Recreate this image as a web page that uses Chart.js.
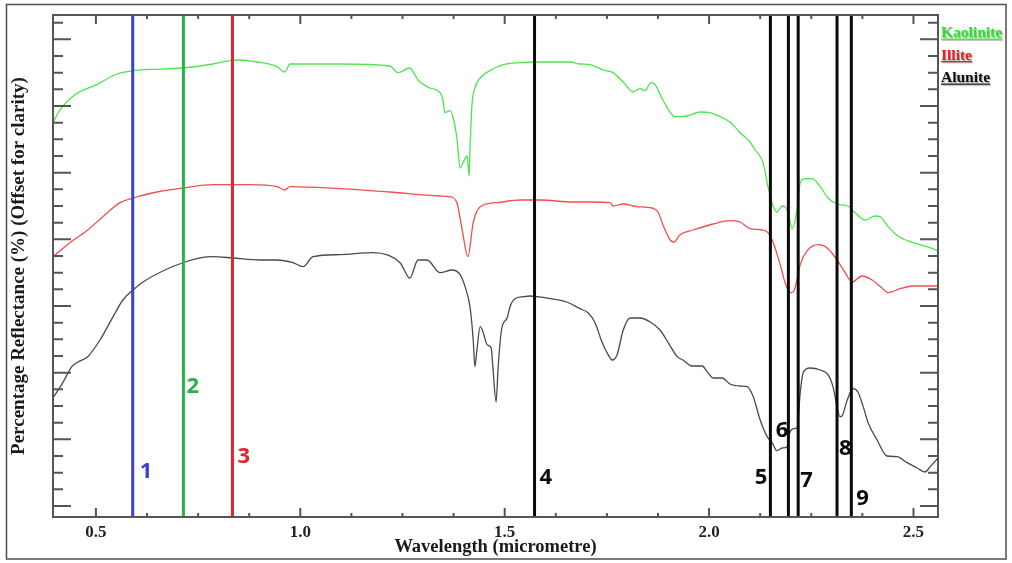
<!DOCTYPE html>
<html>
<head>
<meta charset="utf-8">
<script src="https://cdn.jsdelivr.net/npm/chart.js@4.4.1/dist/chart.umd.min.js"></script>
<style>
  html, body { margin: 0; padding: 0; background: #fff; }
  canvas { display: block; }
</style>
</head>
<body>
<canvas id="spectra" width="1012" height="563"></canvas>
<script>
// spectra.js

// wavelength axis (micrometre)
const X_MIN = 0.395;
const X_MAX = 2.56;
const X_TICKS = [ 0.5, 0.625, 0.75, 0.875, 1.0, 1.125, 1.25, 1.375, 1.5, 1.625, 1.75, 1.875, 2.0, 2.125, 2.25, 2.375, 2.5 ];
const X_LABELED = [ 0.5, 1.0, 1.5, 2.0, 2.5 ];

// reflectance axis, unlabeled (offset for clarity)
const Y_MIN = -1.65;
const Y_MAX = 73.65;
const Y_TICKS = [ 0, 2.5, 5, 7.5, 10, 12.5, 15, 17.5, 20, 22.5, 25, 27.5, 30, 32.5, 35, 37.5, 40, 42.5, 45, 47.5, 50, 52.5, 55, 57.5, 60, 62.5, 65, 67.5, 70, 72.5 ];
const Y_MAJOR = [ 0, 10, 20, 30, 40, 50, 60, 70 ];

const KAOLINITE_WL = [ 0.395, 0.412, 0.449, 0.502, 0.551, 0.591, 0.713, 0.786, 0.828, 0.852, 0.894, 0.943, 0.962, 0.975, 1.097, 1.219, 1.239, 1.268, 1.288, 1.317, 1.342, 1.349, 1.354, 1.366, 1.374, 1.383, 1.391, 1.398, 1.408, 1.413, 1.415, 1.420, 1.427, 1.440, 1.464, 1.496, 1.538, 1.579, 1.660, 1.684, 1.709, 1.741, 1.765, 1.790, 1.814, 1.831, 1.843, 1.858, 1.868, 1.887, 1.917, 1.946, 1.978, 2.002, 2.027, 2.051, 2.076, 2.100, 2.113, 2.132, 2.144, 2.154, 2.166, 2.179, 2.186, 2.193, 2.203, 2.215, 2.223, 2.235, 2.252, 2.272, 2.291, 2.313, 2.340, 2.357, 2.382, 2.406, 2.418, 2.438, 2.462, 2.499, 2.533, 2.560 ];
const KAOLINITE_R = [ 57.5, 59.4, 61.7, 63.2, 64.8, 65.3, 65.7, 66.3, 66.8, 66.9, 66.6, 65.9, 65.1, 66.3, 66.3, 66.0, 65.0, 65.7, 63.9, 62.7, 62.0, 60.9, 59.0, 59.3, 58.2, 55.2, 50.7, 51.5, 52.5, 49.5, 53.4, 60.2, 62.7, 64.2, 65.3, 66.2, 66.5, 66.6, 66.6, 66.3, 66.2, 65.4, 65.0, 63.6, 62.1, 62.6, 62.3, 63.5, 63.2, 60.9, 58.4, 58.5, 59.1, 59.0, 58.4, 57.6, 56.0, 54.6, 53.4, 51.5, 47.9, 45.5, 44.1, 45.0, 44.9, 44.1, 41.6, 44.4, 48.5, 49.1, 49.1, 47.9, 46.2, 45.3, 45.0, 44.0, 42.9, 43.5, 43.4, 41.9, 40.5, 39.5, 38.9, 38.3 ];

const ILLITE_WL = [ 0.395, 0.436, 0.480, 0.517, 0.559, 0.591, 0.649, 0.713, 0.786, 0.877, 0.943, 0.962, 0.975, 1.097, 1.219, 1.342, 1.366, 1.383, 1.396, 1.410, 1.423, 1.440, 1.481, 1.538, 1.586, 1.667, 1.709, 1.758, 1.765, 1.790, 1.824, 1.861, 1.875, 1.887, 1.905, 1.914, 1.929, 1.961, 2.010, 2.051, 2.076, 2.100, 2.130, 2.144, 2.157, 2.174, 2.186, 2.198, 2.206, 2.215, 2.223, 2.240, 2.267, 2.291, 2.313, 2.333, 2.350, 2.374, 2.399, 2.423, 2.438, 2.467, 2.499, 2.560 ];
const ILLITE_R = [ 37.4, 39.5, 41.4, 43.4, 45.5, 46.2, 47.1, 47.7, 48.2, 48.2, 47.9, 47.4, 47.9, 47.6, 47.1, 46.5, 46.4, 45.5, 41.4, 37.4, 42.5, 44.9, 45.5, 45.9, 45.9, 45.6, 45.6, 45.5, 45.0, 45.3, 44.9, 44.7, 44.1, 42.2, 39.9, 39.6, 40.7, 41.4, 42.3, 42.8, 42.6, 41.6, 41.4, 41.0, 39.5, 36.2, 33.5, 32.0, 32.1, 33.9, 36.2, 38.3, 39.2, 38.6, 36.9, 35.0, 33.6, 34.5, 33.9, 32.7, 32.0, 32.6, 33.0, 33.0 ];

const ALUNITE_WL = [ 0.395, 0.419, 0.441, 0.456, 0.480, 0.510, 0.542, 0.566, 0.591, 0.615, 0.718, 0.786, 0.835, 0.901, 0.943, 0.982, 1.007, 1.031, 1.097, 1.178, 1.244, 1.268, 1.288, 1.310, 1.342, 1.371, 1.391, 1.403, 1.415, 1.423, 1.427, 1.432, 1.440, 1.447, 1.457, 1.467, 1.471, 1.479, 1.484, 1.493, 1.506, 1.513, 1.525, 1.545, 1.562, 1.579, 1.611, 1.652, 1.684, 1.704, 1.721, 1.738, 1.753, 1.763, 1.775, 1.790, 1.807, 1.831, 1.856, 1.880, 1.900, 1.922, 1.936, 1.958, 1.983, 1.997, 2.010, 2.032, 2.051, 2.076, 2.093, 2.108, 2.125, 2.142, 2.154, 2.166, 2.179, 2.191, 2.196, 2.206, 2.215, 2.223, 2.230, 2.247, 2.272, 2.291, 2.303, 2.313, 2.320, 2.325, 2.338, 2.352, 2.364, 2.377, 2.389, 2.411, 2.435, 2.460, 2.484, 2.509, 2.528, 2.541, 2.560 ];
const ALUNITE_R = [ 16.2, 18.5, 20.9, 21.6, 22.4, 24.9, 28.4, 30.9, 32.4, 33.6, 36.6, 37.4, 37.2, 36.9, 36.9, 36.5, 35.9, 37.4, 37.7, 38.0, 36.5, 34.2, 36.9, 36.9, 35.0, 35.4, 34.7, 32.9, 29.9, 24.9, 20.9, 23.4, 26.9, 26.1, 24.2, 23.7, 20.9, 15.6, 20.9, 26.7, 28.2, 29.9, 31.1, 31.4, 31.5, 31.4, 31.1, 30.6, 29.6, 29.0, 27.5, 24.6, 22.7, 21.9, 22.7, 26.4, 28.2, 28.2, 27.6, 26.4, 24.5, 22.4, 21.9, 21.0, 21.0, 20.0, 19.2, 19.2, 18.3, 18.0, 17.9, 16.4, 12.9, 10.4, 9.5, 8.3, 8.7, 8.9, 10.7, 11.6, 11.7, 17.0, 20.0, 20.7, 20.4, 19.7, 17.9, 14.9, 13.4, 13.5, 15.9, 17.6, 17.1, 14.9, 12.5, 9.9, 7.5, 7.4, 6.5, 5.7, 5.1, 5.9, 7.2 ];

// band positions marked with vertical lines
const MARKER_WL = [ 0.59, 0.714, 0.834, 1.573, 2.150, 2.194, 2.218, 2.313, 2.348 ];
const MARKER_NAMES = [ '1', '2', '3', '4', '5', '6', '7', '8', '9' ];

// where each marker number sits: text baseline (y units), px shift from line, side
const MARKER_LABEL_Y = [ 4.2, 17.0, 6.45, 3.3, 3.3, 10.4, 2.9, 7.65, 0.15 ];
const MARKER_LABEL_DX = [ 7, 3, 5, 5, -3, 0, 2, 2, 5 ];
const MARKER_LABEL_SIDE = [ 'left', 'left', 'left', 'left', 'right', 'right', 'left', 'left', 'left' ];
const MARKER_COLORS = [ '#3a3fd2', '#27b24a', '#e8222b', '#0a0a0a', '#0a0a0a', '#0a0a0a', '#0a0a0a', '#0a0a0a', '#0a0a0a' ];

const SERIES_NAMES = [ 'Kaolinite', 'Illite', 'Alunite' ];
const SERIES_COLORS = [ '#4de64d', '#f24d4d', '#4a4a4a' ];
const LEGEND_COLORS = [ '#2ee02e', '#f01c1c', '#111111' ];

const SERIF = '"Liberation Serif", "Times New Roman", serif';

function to_points( xs, ys ) {
  return xs.map( ( x, i ) => ( { x: x, y: ys[ i ] } ) );
}

function spectrum_dataset( name, idx, xs, ys ) {
  return {
    label: name,
    data: to_points( xs, ys ),
    borderColor: SERIES_COLORS[ idx ],
    borderWidth: 1.3,
    pointRadius: 0,
    cubicInterpolationMode: 'monotone',
    order: 2
  };
}

function marker_dataset( idx ) {
  return {
    label: 'band ' + MARKER_NAMES[ idx ],
    data: [ { x: MARKER_WL[ idx ], y: Y_MIN }, { x: MARKER_WL[ idx ], y: Y_MAX } ],
    borderColor: MARKER_COLORS[ idx ],
    borderWidth: 3,
    pointRadius: 0,
    order: 1
  };
}

const frame_plugin = {
  id: 'frame_plugin',
  beforeDraw( chart ) {
    const ctx = chart.ctx;
    ctx.save();
    ctx.fillStyle = '#ffffff';
    ctx.fillRect( 0, 0, chart.width, chart.height );
    ctx.strokeStyle = '#4d4d4d';
    ctx.lineWidth = 1.5;
    ctx.strokeRect( 6.5, 4.5, chart.width - 12.5, chart.height - 8.5 );
    ctx.restore();
  },
  afterDatasetsDraw( chart ) {
    const { ctx, scales: { x, y } } = chart;
    ctx.save();
    ctx.font = 'bold 22px "Open Sans", "Noto Sans", sans-serif';
    ctx.textBaseline = 'alphabetic';
    MARKER_NAMES.forEach( ( name, i ) => {
      ctx.fillStyle = MARKER_COLORS[ i ];
      ctx.textAlign = MARKER_LABEL_SIDE[ i ];
      const px = x.getPixelForValue( MARKER_WL[ i ] ) + MARKER_LABEL_DX[ i ];
      ctx.fillText( name, px, y.getPixelForValue( MARKER_LABEL_Y[ i ] ) );
    } );
    ctx.restore();
  },
  afterDraw( chart ) {
    const { ctx, chartArea: a, scales: { x, y } } = chart;
    ctx.save();
    ctx.strokeStyle = '#555555';
    ctx.lineWidth = 2;
    ctx.beginPath();
    x.ticks.forEach( t => {
      const px = x.getPixelForValue( t.value );
      const len = X_LABELED.includes( t.value ) ? 9 : 4;
      ctx.moveTo( px, a.bottom );
      ctx.lineTo( px, a.bottom - len );
      ctx.moveTo( px, a.top );
      ctx.lineTo( px, a.top + len );
    } );
    y.ticks.forEach( t => {
      const py = y.getPixelForValue( t.value );
      const len = Y_MAJOR.includes( t.value ) ? 18 : 10;
      ctx.moveTo( a.left, py );
      ctx.lineTo( a.left + len, py );
      ctx.moveTo( a.right, py );
      ctx.lineTo( a.right - len, py );
    } );
    ctx.stroke();
    ctx.strokeRect( a.left, a.top, a.right - a.left, a.bottom - a.top );

    // legend, top right outside the plot
    ctx.font = 'bold 15.5px ' + SERIF;
    ctx.textAlign = 'left';
    ctx.textBaseline = 'alphabetic';
    SERIES_NAMES.forEach( ( name, i ) => {
      const lx = a.right + 3;
      const ly = a.top + 22 + i * 22.5;
      const w = ctx.measureText( name ).width;
      ctx.shadowColor = 'rgba(0,0,0,0.35)';
      ctx.shadowOffsetX = 1;
      ctx.shadowOffsetY = 1;
      ctx.shadowBlur = 1;
      ctx.fillStyle = LEGEND_COLORS[ i ];
      ctx.fillText( name, lx, ly );
      ctx.fillRect( lx, ly + 1.5, w, 1.2 );
    } );
    ctx.restore();
  }
};

document.addEventListener( 'DOMContentLoaded', function () {
  const ctx = document.getElementById( 'spectra' ).getContext( '2d' );
  const datasets = MARKER_WL.map( ( w, i ) => marker_dataset( i ) ).concat( [
    spectrum_dataset( SERIES_NAMES[ 0 ], 0, KAOLINITE_WL, KAOLINITE_R ),
    spectrum_dataset( SERIES_NAMES[ 1 ], 1, ILLITE_WL, ILLITE_R ),
    spectrum_dataset( SERIES_NAMES[ 2 ], 2, ALUNITE_WL, ALUNITE_R )
  ] );

  new Chart( ctx, {
    type: 'line',
    data: { datasets: datasets },
    options: {
      responsive: false,
      animation: false,
      devicePixelRatio: 1,
      layout: { padding: { top: 15, right: 74, left: 0, bottom: 0 } },
      plugins: {
        legend: { display: false },
        tooltip: { enabled: false }
      },
      scales: {
        x: {
          type: 'linear',
          position: 'bottom',
          min: X_MIN,
          max: X_MAX,
          bounds: 'data',
          afterBuildTicks: s => { s.ticks = X_TICKS.map( v => ( { value: v } ) ); },
          afterFit: s => { s.height = 46; },
          grid: { display: false, drawTicks: false },
          border: { display: false },
          ticks: {
            autoSkip: false,
            maxRotation: 0,
            padding: 5,
            color: '#222222',
            font: { family: SERIF, size: 17, weight: 'bold' },
            callback: v => X_LABELED.includes( v ) ? v.toFixed( 1 ) : ''
          },
          title: {
            display: true,
            text: 'Wavelength (micrometre)',
            color: '#1a1a1a',
            font: { family: SERIF, size: 18.5, weight: 'bold' },
            padding: { top: 0, bottom: 5 }
          }
        },
        y: {
          type: 'linear',
          min: Y_MIN,
          max: Y_MAX,
          bounds: 'data',
          afterBuildTicks: s => { s.ticks = Y_TICKS.map( v => ( { value: v } ) ); },
          afterFit: s => { s.width = 53; },
          grid: { display: false, drawTicks: false },
          border: { display: false },
          ticks: { display: false },
          title: {
            display: true,
            text: 'Percentage Reflectance (%) (Offset for clarity)',
            color: '#1a1a1a',
            font: { family: SERIF, size: 19, weight: 'bold' },
            padding: { top: 8, bottom: 0 }
          }
        }
      }
    },
    plugins: [ frame_plugin ]
  } );
} );
</script>
</body>
</html>
